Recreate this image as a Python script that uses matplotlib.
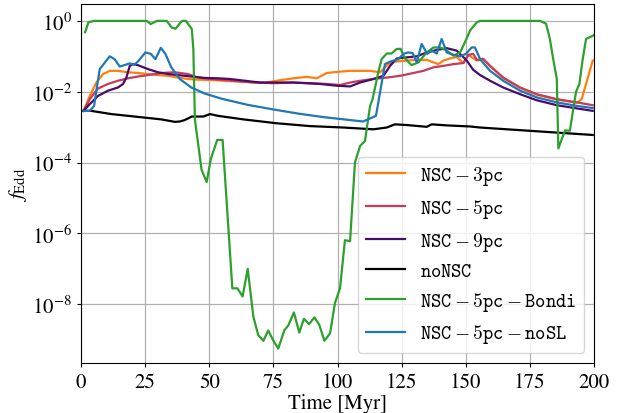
import numpy as np
import matplotlib
matplotlib.use("Agg")
import matplotlib.pyplot as plt
from matplotlib.font_manager import FontProperties

plt.rcParams['font.family'] = 'serif'
plt.rcParams['font.serif'] = ['STIXGeneral', 'Liberation Serif', 'DejaVu Serif']
plt.rcParams['mathtext.fontset'] = 'stix'

# ---- data (log10 f_Edd vs time in Myr) ----
t_3pc = [1, 3.4, 6, 8.6, 11.2, 14.4, 18.3, 22.2, 26.1, 30, 33.9, 37.8, 41.7, 45.6, 50.8, 58, 66, 72, 76.3,
         82.8, 88, 91.9, 95.8, 99.7, 104.9, 112.7, 116.6, 119.8, 122.4, 127, 130.9, 134.8, 137.4, 139.3,
         141.3, 143.9, 146.5, 149.1, 151, 154.3, 156.8, 159.5, 164.6, 171.2, 177.7, 185.5, 193.3, 195.2, 199.5]
f_3pc = [-2.54, -2.12, -1.74, -1.5, -1.41, -1.41, -1.45, -1.47, -1.5, -1.53, -1.55, -1.6, -1.64, -1.66, -1.67,
         -1.70, -1.73, -1.74, -1.69, -1.62, -1.58, -1.62, -1.47, -1.44, -1.41, -1.41, -1.45, -1.22, -1.15,
         -1.12, -1.1, -1.1, -1.17, -1.22, -1.12, -1.06, -1.02, -1.19, -0.96, -1.12, -1.08, -1.28, -1.61,
         -1.89, -2.08, -2.22, -2.31, -2.21, -1.12]

t_5pc = [1, 3.4, 6.6, 10.5, 14.4, 18.3, 22.2, 26.1, 31.3, 36.5, 41.7, 45.6, 50.8, 58, 67.2, 75, 82.8, 90,
         95.8, 101, 104.9, 108.8, 114, 119.2, 124.4, 129.6, 133.5, 137.4, 141.3, 145.2, 149.1, 151,
         152.9, 154.3, 156.8, 159.5, 164.6, 171.2, 177.7, 185.5, 193.3, 199.5]
f_5pc = [-2.54, -2.21, -1.91, -1.78, -1.69, -1.62, -1.57, -1.53, -1.47, -1.45, -1.5, -1.6, -1.64, -1.68,
         -1.74, -1.76, -1.74, -1.76, -1.78, -1.81, -1.74, -1.69, -1.64, -1.6, -1.55, -1.47, -1.41, -1.31,
         -1.27, -1.22, -1.19, -0.96, -0.93, -1.1, -1.07, -1.27, -1.6, -1.88, -2.07, -2.21, -2.3, -2.38]

t_9pc = [1, 3.4, 6.6, 10.5, 14.4, 16.4, 17.7, 19, 20.3, 22.2, 26.1, 30, 33.9, 37.8, 43, 48.2, 53.4, 58.1,
         69.8, 82.8, 93.2, 99.7, 104.9, 108.8, 114, 117.9, 120.5, 123.1, 127, 130.9, 134.8, 138.7,
         142.6, 146.5, 150.4, 152.9, 155.6, 159.5, 164.6, 171.2, 177.7, 185.5, 193.3, 199.5]
f_9pc = [-2.54, -2.35, -2.12, -1.97, -1.88, -1.78, -1.6, -1.27, -1.22, -1.25, -1.36, -1.45, -1.5, -1.53,
         -1.57, -1.61, -1.62, -1.64, -1.74, -1.74, -1.78, -1.83, -1.85, -1.74, -1.64, -1.55, -1.27, -1.06,
         -1.03, -1.0, -0.89, -0.82, -0.77, -0.84, -1.12, -1.38, -1.53, -1.69, -1.88, -2.07, -2.24, -2.38,
         -2.47, -2.54]

t_no = [1, 4, 11.8, 18.3, 24.8, 31.3, 36.6, 38.5, 40.4, 43.2, 47.7, 50.3, 53.4, 63.3, 76.3, 89.3, 102.3,
        114, 119.2, 122.4, 127, 134.8, 136.7, 142.6, 151.7, 155.6, 199.5]
f_no = [-2.54, -2.54, -2.63, -2.68, -2.73, -2.78, -2.85, -2.84, -2.8, -2.7, -2.7, -2.63, -2.68, -2.78, -2.89,
        -2.97, -3.01, -3.06, -3.01, -2.92, -2.94, -2.99, -2.92, -2.95, -2.98, -3.01, -3.22]

t_bondi = [1.6, 2.9, 5, 25.6, 27.2, 29.5, 33.4, 35.4, 36.9, 39.3, 40.9, 43.2, 43.8, 44.4, 47, 49, 50.6, 53.1,
           55.2, 59, 61, 63, 65, 67.2, 69.1, 71.1, 73, 75, 76.9, 79.3, 80.8, 83, 85.1, 86.9, 88.9, 91,
           92.9, 94.9, 97.1, 99, 101, 102.9, 104.9, 106.8, 108.8, 110.7, 112.7, 113.7, 115.9, 117.2, 119.2,
           121.1, 123.1, 124.6, 126.3, 128.9, 131.5, 134.8, 137.4, 140, 142.6, 145.2, 147.8, 149.7, 151.7,
           154.3, 155.6, 179, 181.3, 182.8, 184.1, 185.5, 186.1, 188.7, 190.6, 191.9, 193, 194.3, 195.6,
           196.9, 199.5, 200]
f_bondi = [-0.32, -0.04, 0, 0, -0.09, 0, 0, -0.19, -0.22, 0, 0, -0.23, -0.8, -2.78, -4.2, -4.55, -3.9, -3.36,
           -3.36, -7.55, -7.55, -7.78, -7.0, -8.35, -8.87, -9.03, -8.74, -9.03, -9.25, -8.73, -8.6, -8.23,
           -8.8, -8.41, -8.56, -8.37, -8.58, -9.03, -8.82, -7.97, -7.54, -6.19, -6.22, -4.0, -3.53, -3.39,
           -2.4, -2.2, -1.45, -1.08, -0.92, -0.92, -0.79, -0.79, -1.06, -1.25, -1.17, -0.89, -0.75, -0.75,
           -0.84, -0.98, -0.89, -0.6, -0.27, -0.04, 0, 0, -0.08, -0.51, -1.08, -1.64, -3.6, -3.09, -3.1,
           -2.49, -2.0, -1.78, -1.08, -0.51, -0.42, -0.4]

t_nosl = [1, 3.4, 5.1, 7.3, 11.2, 13.1, 15.1, 19, 20.9, 22.5, 25.1, 27.2, 29, 31.1, 32.9, 35.2, 38.5, 43,
          48.2, 55, 65, 75, 85, 95, 105, 110, 115, 118.5, 120.5, 123.7, 125.7, 127.6, 129.3, 130.9, 132.8,
          135, 136.7, 138.7, 140.6, 142.6, 145.2, 147.8, 150.1, 152.3, 153.6, 155.6, 159.5, 164.6, 171.2,
          177.7, 185.5, 193.3, 199.5]
f_nosl = [-2.54, -2.54, -2.4, -1.36, -1.0, -1.08, -1.29, -1.2, -1.24, -1.12, -0.89, -0.93, -1.08, -0.76,
          -0.93, -1.31, -1.64, -1.88, -2.05, -2.2, -2.37, -2.5, -2.62, -2.72, -2.8, -2.84, -2.68, -1.22,
          -1.15, -1.08, -0.93, -0.89, -0.91, -1.17, -0.65, -0.93, -0.84, -0.92, -0.51, -0.89, -0.96, -1.0,
          -0.93, -0.75, -0.75, -1.08, -1.41, -1.69, -1.97, -2.16, -2.3, -2.4, -2.46]

series = [
    (t_3pc, f_3pc, '#ff7f0e', r'$\mathtt{NSC-3pc}$'),
    (t_5pc, f_5pc, '#c43c5c', r'$\mathtt{NSC-5pc}$'),
    (t_9pc, f_9pc, '#4a0c6b', r'$\mathtt{NSC-9pc}$'),
    (t_no, f_no, 'black', r'$\mathtt{noNSC}$'),
    (t_bondi, f_bondi, '#2ca02c', r'$\mathtt{NSC-5pc-Bondi}$'),
    (t_nosl, f_nosl, '#1f77b4', r'$\mathtt{NSC-5pc-noSL}$'),
]

fig = plt.figure(figsize=(6.24, 4.14), dpi=100)
ax = fig.add_axes([81/624, 50/414, 513/624, 359/414])
for t, f, c, lab in series:
    ax.plot(t, 10.0 ** np.array(f), color=c, lw=1.6, label=lab)

ax.set_yscale('log')
ax.set_xlim(0, 200)
ax.set_ylim(2.2e-10, 3.0)
ax.set_xticks([0, 25, 50, 75, 100, 125, 150, 175, 200])
ax.set_yticks([1e0, 1e-2, 1e-4, 1e-6, 1e-8])
ax.yaxis.set_minor_locator(matplotlib.ticker.NullLocator())
ax.grid(True, color='#b0b0b0', lw=0.9)
ax.set_axisbelow(True)
ax.tick_params(labelsize=15, length=3)
ax.set_xlabel('Time [Myr]', fontsize=15, labelpad=1)
ax.set_ylabel(r'$f_{\rm Edd}$', fontsize=15, labelpad=2)

leg = ax.legend(loc='lower right', prop=FontProperties(size=14, math_fontfamily='cm'),
                framealpha=0.8)

fig.savefig('out.png', dpi=100)
